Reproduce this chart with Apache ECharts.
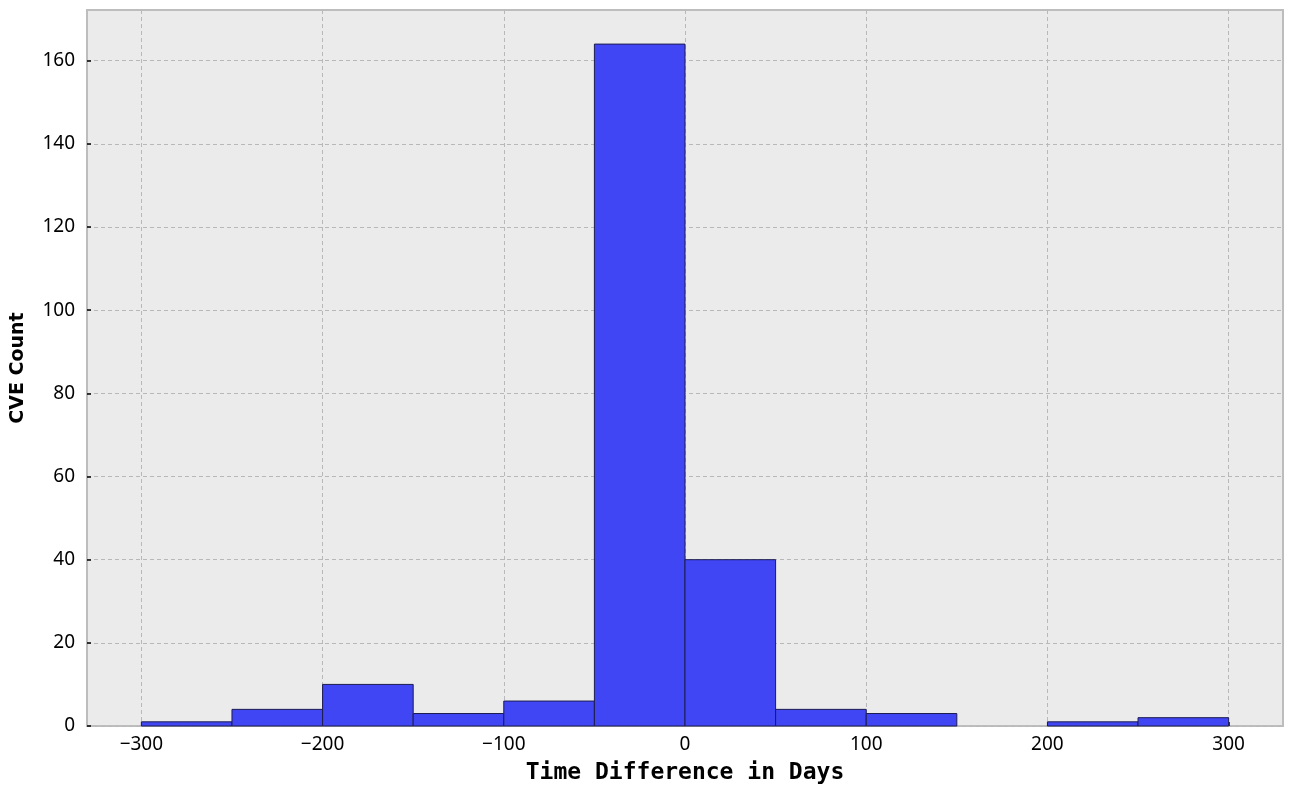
<!DOCTYPE html>
<html>
<head>
<meta charset="utf-8">
<script src="https://cdn.jsdelivr.net/npm/echarts@6/dist/echarts.min.js"></script>
<style>
html,body{margin:0;padding:0;background:#fff;}
#chart{width:1290px;height:790px;}
</style>
</head>
<body>
<div id="chart"></div>
<script>
// Histogram bins (days) and CVE counts
const binStarts = [-300, -250, -200, -150, -100, -50, 0, 50, 100, 150, 200, 250];
const binWidth = 50;
const counts = [1, 4, 10, 3, 6, 164, 40, 4, 3, 0, 1, 2];
const xTicks = [-300, -200, -100, 0, 100, 200, 300];
const yTicks = [0, 20, 40, 60, 80, 100, 120, 140, 160];

const data = binStarts.map((s, i) => [s, s + binWidth, counts[i]]);

const chart = echarts.init(document.getElementById('chart'), null, {renderer: 'canvas'});
const labelFont = {color: '#000', fontSize: 19, fontFamily: 'Noto Sans'};

chart.setOption({
  animation: false,
  backgroundColor: '#fff',
  grid: {
    left: 87, right: 7, top: 10, bottom: 62,
    show: true, backgroundColor: '#EBEBEB', borderColor: '#BDBDBD', borderWidth: 2
  },
  xAxis: {
    type: 'value', min: -330, max: 330,
    name: 'Time Difference in Days', nameLocation: 'middle', nameGap: 36,
    nameTextStyle: {color: '#000', fontSize: 23, fontWeight: 'bold', fontFamily: 'DejaVu Sans Mono'},
    axisLine: {show: false, onZero: false},
    axisTick: {show: true, inside: true, length: 4, lineStyle: {color: '#000', width: 1.5}, customValues: xTicks},
    axisLabel: Object.assign({margin: 9, customValues: xTicks, formatter: v => (v < 0 ? '\u2212' + Math.abs(v) : String(v))}, labelFont),
    splitLine: {show: true, lineStyle: {color: '#B8B8B8', type: [4, 3], width: 1}}
  },
  yAxis: {
    type: 'value', min: 0, max: 172.2, interval: 20,
    name: 'CVE Count', nameLocation: 'middle', nameGap: 59,
    nameTextStyle: {color: '#000', fontSize: 19, fontWeight: 'bold', fontFamily: 'DejaVu Sans'},
    axisLine: {show: false, onZero: false},
    axisTick: {show: true, inside: true, length: 4, lineStyle: {color: '#000', width: 1.5}, customValues: yTicks},
    axisLabel: Object.assign({margin: 12, customValues: yTicks}, labelFont),
    splitLine: {show: true, lineStyle: {color: '#B8B8B8', type: [4, 3], width: 1}}
  },
  series: [{
    type: 'custom',
    data: data,
    encode: {x: [0, 1], y: 2},
    renderItem: function (params, api) {
      const x0 = api.value(0), x1 = api.value(1), c = api.value(2);
      if (!c) return null;
      const p0 = api.coord([x0, c]);
      const p1 = api.coord([x1, 0]);
      return {
        type: 'rect',
        shape: {x: p0[0], y: p0[1], width: p1[0] - p0[0], height: p1[1] - p0[1]},
        style: {fill: '#4146F4', stroke: '#1C1C50', lineWidth: 1}
      };
    },
    z: 3
  }]
});
</script>
</body>
</html>
